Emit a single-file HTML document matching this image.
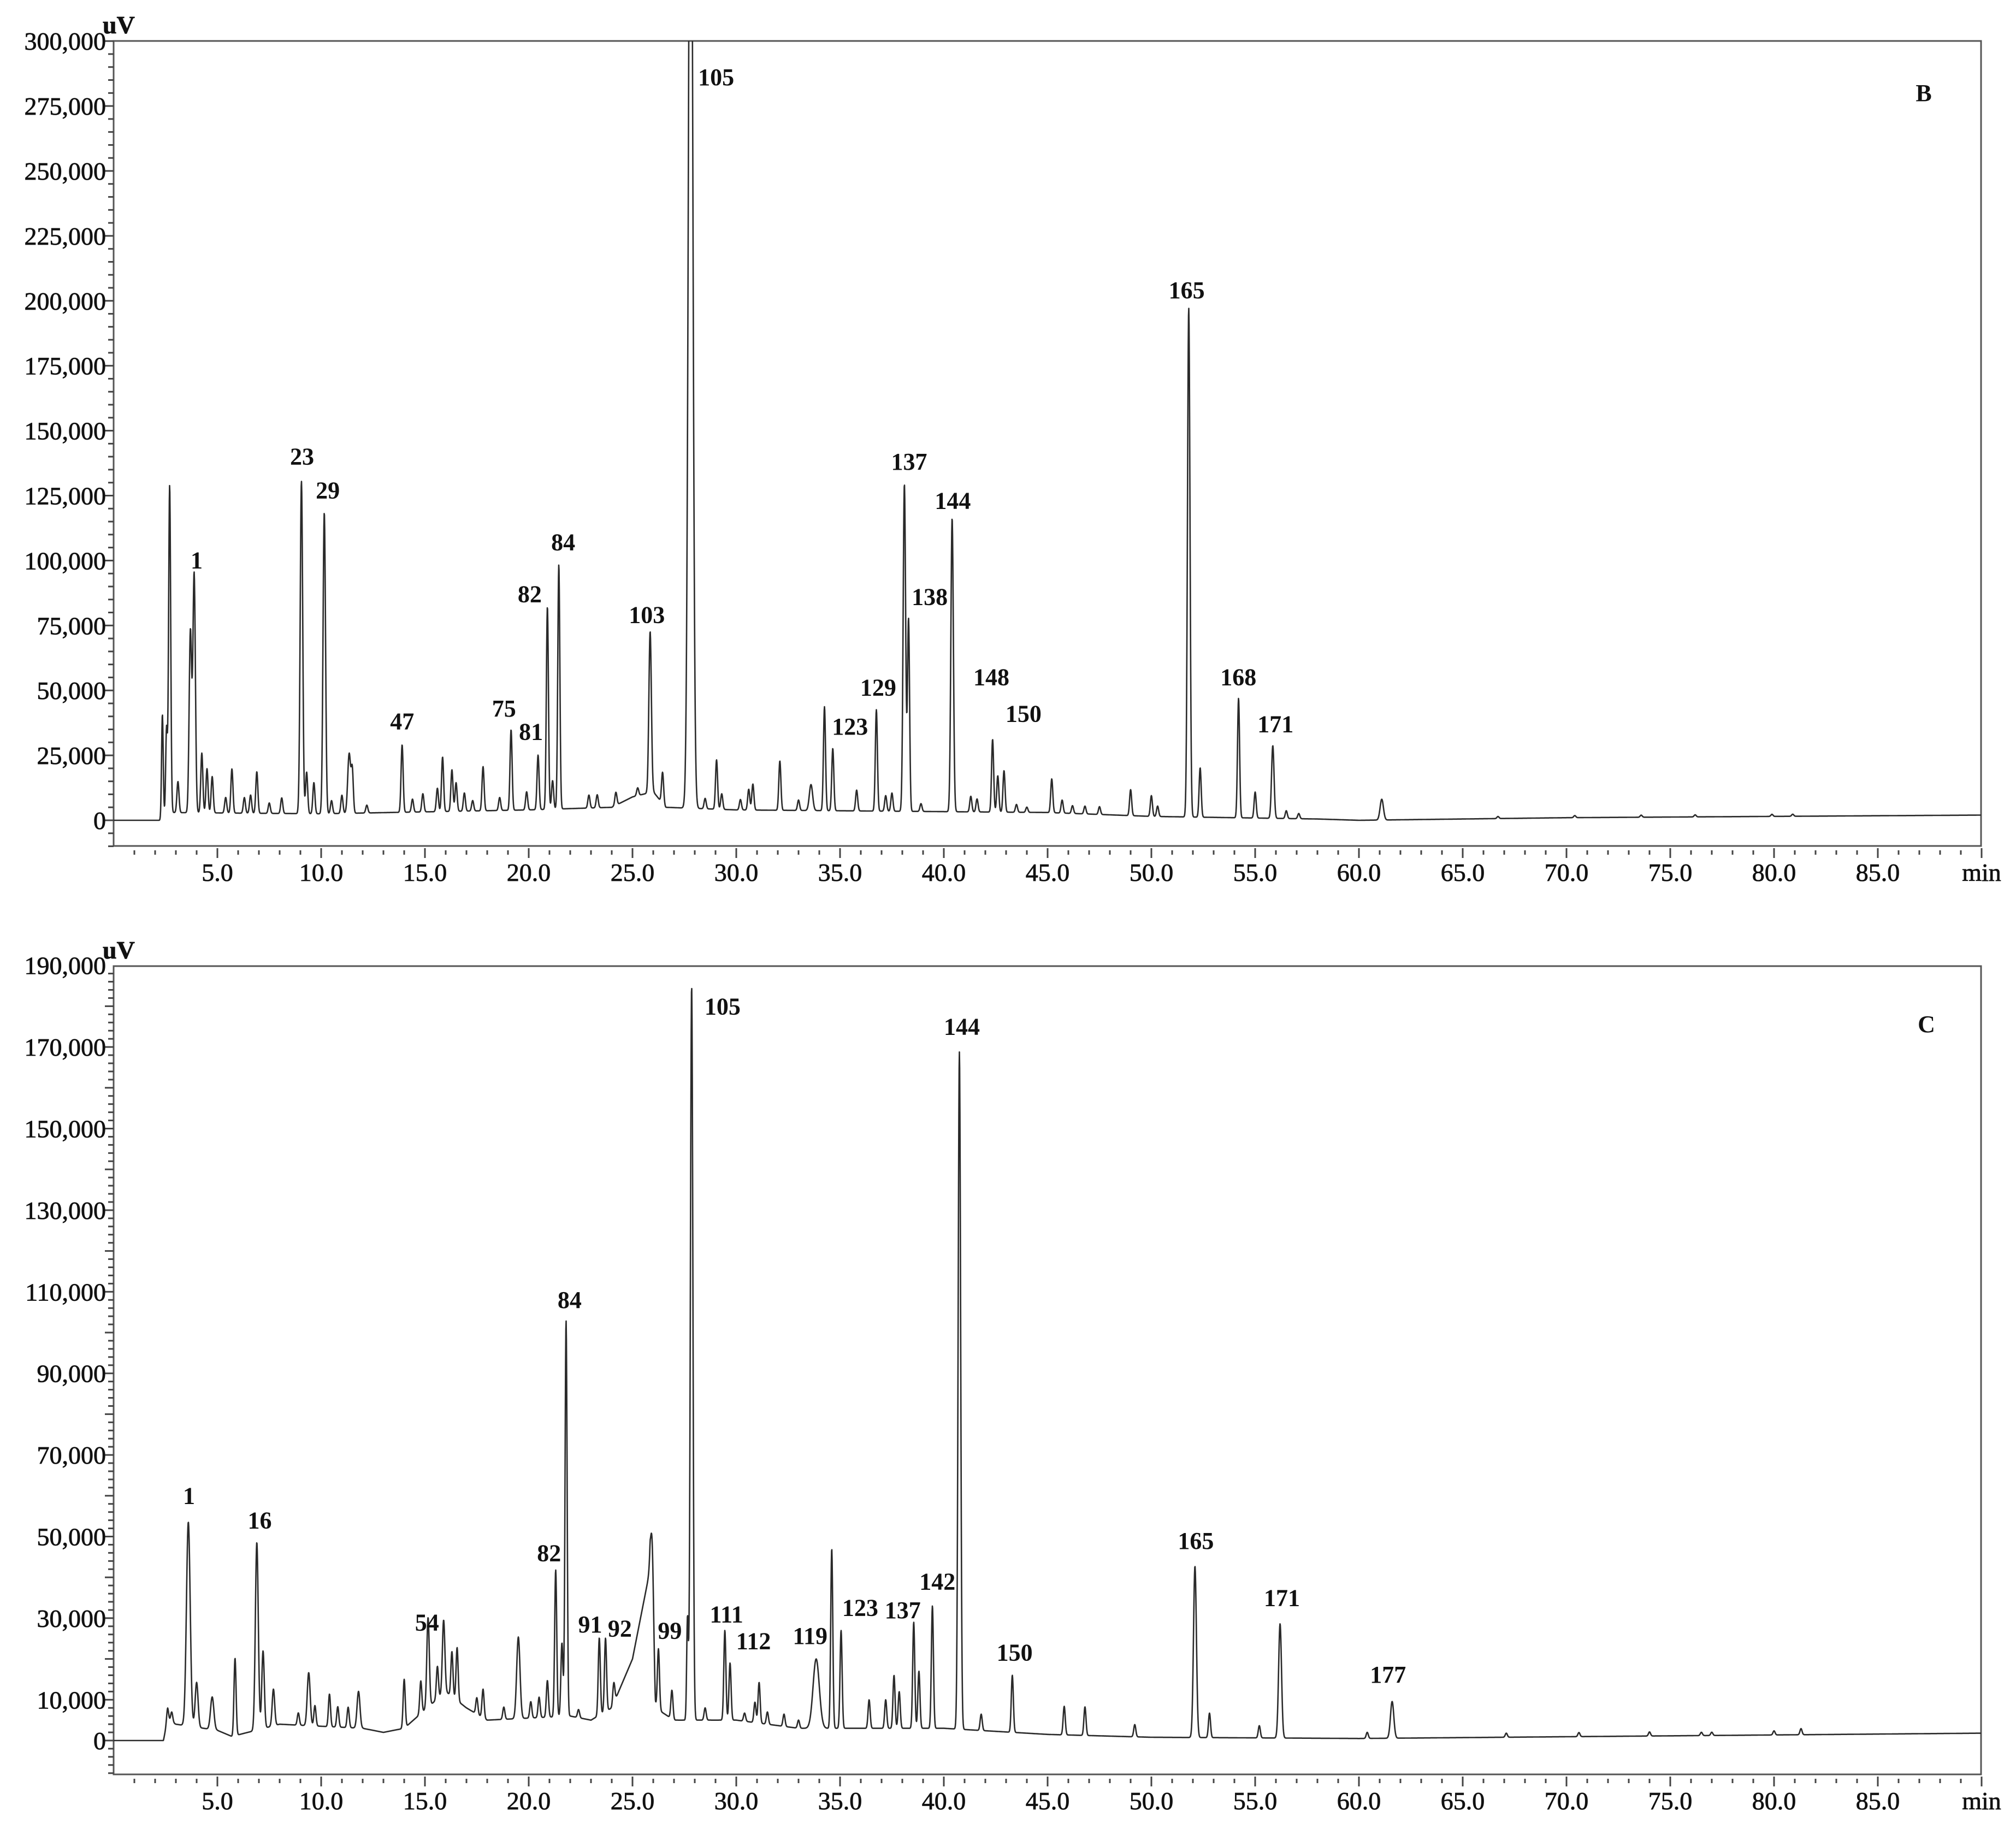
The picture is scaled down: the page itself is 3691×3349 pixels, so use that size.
<!DOCTYPE html>
<html><head><meta charset="utf-8">
<style>
html,body{margin:0;padding:0;background:#fff;}
svg{display:block;font-family:"Liberation Serif",serif;}
.tl{font-size:46px;fill:#111;stroke:#111;stroke-width:0.8;}
.pl{font-size:44px;font-weight:bold;fill:#111;}
</style></head>
<body>
<svg id="chart" width="3691" height="3349" viewBox="0 0 3691 3349" xmlns="http://www.w3.org/2000/svg">
<defs>
<clipPath id="clipB"><rect x="208" y="75" width="3419" height="1474"/></clipPath>
<clipPath id="clipC"><rect x="208" y="1769" width="3419" height="1480"/></clipPath>
</defs>
<g id="panelB"></g>
<g id="panelC"></g>
</svg>
<script>
// ---------- Panel B data ----------
const bPeakTimes   = [2.35,2.55,2.7,3.1,3.7,3.88,4.25,4.5,4.75,5.4,5.7,6.3,6.6,6.9,7.5,8.1,9.05,9.3,9.65,10.15,10.5,11.0,11.35,11.5,12.2,13.9,14.4,14.9,15.6,15.85,16.3,16.5,16.9,17.3,17.8,18.6,19.15,19.9,20.45,20.9,21.15,21.45,22.9,23.3,24.2,25.25,25.85,26.45,27.8,28.5,29.05,29.3,30.2,30.6,30.8,32.1,33.0,33.6,34.25,34.65,35.8,36.75,37.2,37.5,38.1,38.3,38.9,40.4,41.3,41.6,42.35,42.6,42.9,43.5,44.0,45.2,45.7,46.2,46.8,47.5,49.0,50.0,50.3,51.8,52.35,54.2,55.0,55.85,56.5,57.1,61.1,66.7,70.4,73.6,76.2,79.9,80.9];
const bPeakHeights = [40000,32000,126000,12000,70000,92000,23000,17000,14000,6000,17000,6000,7000,16000,4000,6000,128000,16000,12000,116000,5000,7000,23000,16000,3000,26000,5000,7000,9000,21000,16000,11000,7000,4000,17000,5000,31000,7000,21000,78000,11000,94000,5000,5000,5000,3000,62000,12000,440000,4000,19000,6000,4000,8000,10000,19000,4000,10000,40000,24000,8000,39000,6000,7000,126000,74000,3000,113000,6000,5000,28000,14000,16000,3000,2000,13000,5000,3000,3000,3000,10000,8000,4000,196000,19000,46000,10000,28000,3000,2000,8000,800,800,800,800,800,800];
const bPeakWidths  = [0.04,0.04,0.05,0.05,0.06,0.06,0.05,0.05,0.05,0.05,0.05,0.05,0.05,0.05,0.05,0.05,0.06,0.05,0.05,0.06,0.05,0.05,0.07,0.05,0.05,0.05,0.05,0.05,0.05,0.05,0.05,0.05,0.05,0.05,0.05,0.05,0.05,0.05,0.05,0.05,0.05,0.05,0.05,0.05,0.05,0.05,0.06,0.05,0.1,0.05,0.05,0.05,0.05,0.05,0.05,0.05,0.05,0.08,0.05,0.05,0.05,0.05,0.05,0.05,0.06,0.05,0.05,0.06,0.05,0.05,0.05,0.05,0.05,0.05,0.05,0.05,0.05,0.05,0.05,0.05,0.05,0.05,0.05,0.06,0.05,0.05,0.05,0.06,0.05,0.05,0.08,0.05,0.05,0.05,0.05,0.05,0.05];
const bBaseTimes  = [0,2.3,2.5,10,20,24,25,26,26.6,30,45,50,58,60,70,90];
const bBaseValues = [0,0,3000,2500,4000,5000,9000,11000,5000,4000,3000,1500,500,0,1000,2000];
const bLabelText  = ["105","165","23","29","137","144","1","84","82","138","103","47","75","81","129","123","148","150","168","171"];
const bLabelTimes = [29.03,51.7,9.08,10.32,38.33,40.43,4.0,21.66,20.05,39.32,25.69,13.9,18.81,20.11,36.84,35.48,42.29,43.84,54.19,55.98];
const bLabelValues= [283000,201000,137000,124000,135000,120000,97000,104000,84000,83000,76000,35000,40000,31000,48000,33000,52000,38000,52000,34000];
const bYTickValues = [0,25000,50000,75000,100000,125000,150000,175000,200000,225000,250000,275000,300000];
const bYTickLabels = ["0","25,000","50,000","75,000","100,000","125,000","150,000","175,000","200,000","225,000","250,000","275,000","300,000"];

// ---------- Panel C data ----------
const cPeakTimes   = [2.6,2.8,3.6,4.0,4.75,5.85,6.9,7.2,7.7,8.9,9.4,9.7,10.4,10.8,11.3,11.8,14.0,14.8,15.15,15.6,15.9,16.3,16.55,17.5,17.8,18.8,19.5,20.1,20.5,20.9,21.3,21.6,21.8,22.4,23.4,23.7,24.1,25.95,26.25,26.9,27.65,27.85,28.5,29.45,29.7,30.4,30.9,31.1,31.5,32.3,33.0,33.85,34.6,35.05,36.4,37.2,37.6,37.85,38.55,38.8,39.45,40.75,41.8,43.3,45.8,46.8,49.2,52.1,52.8,55.2,56.2,61.6,60.4,67.1,70.6,74.0,76.5,77.0,80.0,81.3];
const cPeakHeights = [3000,2500,50000,11000,8000,19000,46000,19000,9000,3000,13000,5000,8000,5000,5000,9000,12000,8000,22000,8000,18000,11000,13000,4000,7000,3000,20000,4000,5000,9000,36000,18000,97000,2000,19000,18000,5000,20000,15000,7000,25000,180000,3000,22000,14000,2000,5000,10000,3000,3000,2000,17000,44000,24000,7000,7000,13000,9000,26000,14000,30000,166000,4000,14000,7000,7000,3000,42000,6000,3000,28000,9000,1500,1000,1000,1000,800,800,1000,1500];
const cPeakWidths  = [0.05,0.05,0.09,0.07,0.08,0.05,0.07,0.06,0.06,0.05,0.07,0.05,0.05,0.05,0.05,0.07,0.05,0.05,0.06,0.05,0.06,0.05,0.05,0.05,0.05,0.05,0.08,0.05,0.05,0.05,0.05,0.05,0.05,0.05,0.05,0.05,0.05,0.07,0.05,0.05,0.04,0.06,0.05,0.05,0.05,0.05,0.05,0.05,0.05,0.05,0.05,0.15,0.05,0.05,0.05,0.05,0.05,0.05,0.05,0.05,0.05,0.06,0.05,0.05,0.05,0.05,0.05,0.07,0.05,0.05,0.07,0.08,0.05,0.05,0.05,0.05,0.05,0.05,0.05,0.05];
const cBaseTimes  = [0,2.4,2.6,3,5,5.7,8,12,13,14,16,17,18,22,23,24,25,25.85,26.1,27,30,33,36,40,45,50,60,90];
const cBaseValues = [0,0,5000,4000,2500,1000,4000,3000,2000,3000,12000,8000,5000,6000,5000,8000,20000,42000,8000,5000,5000,3000,3000,3000,1500,800,500,1800];
const cLabelText  = ["105","144","84","1","16","165","82","171","142","54","91","92","111","123","137","99","112","119","150","177"];
const cLabelTimes = [29.34,40.87,21.97,3.63,7.04,52.14,20.98,56.29,39.69,15.1,22.96,24.39,29.53,35.97,38.02,26.8,30.83,33.56,43.41,61.4];
const cLabelValues= [178000,173000,106000,58000,52000,47000,44000,33000,37000,27000,26500,25500,29000,30600,30000,25000,22400,23700,19600,14200];
const cYTickValues = [0,10000,30000,50000,70000,90000,110000,130000,150000,170000,190000];
const cYTickLabels = ["0","10,000","30,000","50,000","70,000","90,000","110,000","130,000","150,000","170,000","190,000"];

const xTickLabels = ["5.0","10.0","15.0","20.0","25.0","30.0","35.0","40.0","45.0","50.0","55.0","60.0","65.0","70.0","75.0","80.0","85.0"];

// ---------- Drawing ----------
const NS = "http://www.w3.org/2000/svg";
const X0 = 208, X1 = 3627, PXMIN = 38.0;
function xScale(t){ return X0 + t * PXMIN; }

function mk(tag, attrs, parent){
  const e = document.createElementNS(NS, tag);
  for (const k in attrs) e.setAttribute(k, attrs[k]);
  parent.appendChild(e);
  return e;
}
function interp(ts, vs, t){
  if (t <= ts[0]) return vs[0];
  for (let i = 1; i < ts.length; i++){
    if (t <= ts[i]){ const f = (t - ts[i-1])/(ts[i]-ts[i-1]); return vs[i-1] + f*(vs[i]-vs[i-1]); }
  }
  return vs[vs.length-1];
}

function drawPanel(g, cfg){
  const {top, zeroY, axisY, pxPerUnit, minorStep, majorStep, minVal, clip, letter,
         peakT, peakH, peakW, baseT, baseV, labT, labTime, labVal, ytv, ytl, key} = cfg;
  const yScale = v => zeroY - v * pxPerUnit;
  const frame = mk('rect', {x:X0, y:top, width:X1-X0, height:axisY-top, fill:'none', stroke:'#555', 'stroke-width':3}, g);
  
  
  const yt = mk('g', {stroke:'#444','stroke-width':3}, g);
  
  
  const maxVal = (zeroY - top) / pxPerUnit;
  for (let v = minVal; v <= maxVal + 1; v += minorStep){
    const major = Math.abs(v % majorStep) < 1;
    const y = yScale(v);
    mk('line', {x1:X0 - (major ? 16 : 10), x2:X0, y1:y, y2:y}, yt);
  }
  ytv.forEach((v, i) => {
    const t = mk('text', {x:X0 - 14, y:yScale(v) + 16, 'text-anchor':'end', class:'tl'}, g);
    t.textContent = ytl[i];
    
    
  });
  const xt = mk('g', {stroke:'#444','stroke-width':3}, g);
  
  
  for (let m = 1; m <= 90; m++){
    const major = m % 5 === 0;
    const x = xScale(m);
    mk('line', {x1:x, x2:x, y1:axisY + (major ? 4 : 8), y2:axisY + (major ? 22 : 16)}, xt);
  }
  xTickLabels.forEach((lab, i) => {
    const t = mk('text', {x:xScale(5*(i+1)), y:axisY + 64, 'text-anchor':'middle', class:'tl'}, g);
    t.textContent = lab;
    
    
  });
  const mn = mk('text', {x:xScale(90), y:axisY + 64, 'text-anchor':'middle', class:'tl'}, g);
  mn.textContent = 'min';
  
  
  const uv = mk('text', {x:X0 - 20, y:top - 14, 'text-anchor':'start', class:'tl', 'font-weight':'bold'}, g);
  uv.textContent = 'uV';
  
  
  let d = '';
  for (let px = X0; px <= X1; px += 0.5){
    const t = (px - X0) / PXMIN;
    let v = interp(baseT, baseV, t);
    for (let i = 0; i < peakT.length; i++){
      const z = (t - peakT[i]) / peakW[i];
      if (z > -6 && z < 6) v += peakH[i] * Math.exp(-0.5 * z * z);
    }
    d += (d ? 'L' : 'M') + px.toFixed(1) + ',' + yScale(v).toFixed(1);
  }
  const tr = mk('path', {d:d, fill:'none', stroke:'#2a2a2a', 'stroke-width':2.6, 'stroke-linejoin':'round', 'clip-path':'url(#' + clip + ')'}, g);
  
  
  labT.forEach((s, i) => {
    const t = mk('text', {x:xScale(labTime[i]), y:yScale(labVal[i]), 'text-anchor':'middle', class:'pl'}, g);
    t.textContent = s;
    
    
  });
  const L = mk('text', {x:letter[0], y:letter[1], 'text-anchor':'middle', class:'pl', 'font-size':'52'}, g);
  L.textContent = letter[2];
  
  
}

drawPanel(document.getElementById('panelB'), {
  key:'panel-b', top:75, zeroY:1502, axisY:1549, pxPerUnit:118.9/25000,
  minorStep:5000, majorStep:25000, minVal:-10000, clip:'clipB', letter:[3522,185,'B'],
  peakT:bPeakTimes, peakH:bPeakHeights, peakW:bPeakWidths, baseT:bBaseTimes, baseV:bBaseValues,
  labT:bLabelText, labTime:bLabelTimes, labVal:bLabelValues, ytv:bYTickValues, ytl:bYTickLabels
});
drawPanel(document.getElementById('panelC'), {
  key:'panel-c', top:1769, zeroY:3187, axisY:3249, pxPerUnit:74.7/10000,
  minorStep:2000, majorStep:10000, minVal:-8000, clip:'clipC', letter:[3527,1890,'C'],
  peakT:cPeakTimes, peakH:cPeakHeights, peakW:cPeakWidths, baseT:cBaseTimes, baseV:cBaseValues,
  labT:cLabelText, labTime:cLabelTimes, labVal:cLabelValues, ytv:cYTickValues, ytl:cYTickLabels
});
</script>
</body></html>
